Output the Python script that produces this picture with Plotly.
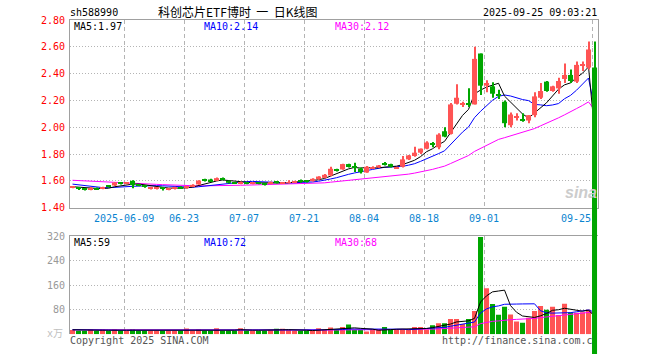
import pandas as pd
import plotly.graph_objects as go

# ---------------- data ----------------
holidays = ["2025-06-02"]
dates = [d.strftime("%Y-%m-%d") for d in pd.bdate_range("2025-05-26", "2025-09-25")
         if d.strftime("%Y-%m-%d") not in holidays]

opens = [1.552, 1.548, 1.540, 1.538, 1.545, 1.540, 1.560, 1.565, 1.583, 1.580,
         1.600, 1.570, 1.563, 1.545, 1.545, 1.547, 1.535, 1.540, 1.552, 1.548,
         1.558, 1.573, 1.605, 1.610, 1.600, 1.620, 1.600, 1.585, 1.580, 1.585,
         1.578, 1.585, 1.578, 1.578, 1.590, 1.582, 1.585, 1.588, 1.600, 1.600,
         1.598, 1.612, 1.622, 1.640, 1.685, 1.685, 1.725, 1.705, 1.692, 1.662,
         1.695, 1.700, 1.725, 1.725, 1.692, 1.705, 1.760, 1.785, 1.810, 1.840,
         1.875, 1.850, 1.970, 1.950, 2.175, 2.170, 2.180, 2.170, 2.550, 2.310,
         2.305, 2.245, 2.190, 2.015, 2.075, 2.060, 2.050, 2.090, 2.220, 2.340,
         2.270, 2.290, 2.360, 2.390, 2.340, 2.465, 2.445, 2.445]
highs = [1.560, 1.552, 1.545, 1.553, 1.550, 1.555, 1.565, 1.590, 1.590, 1.590,
         1.605, 1.575, 1.568, 1.555, 1.553, 1.550, 1.545, 1.555, 1.560, 1.562,
         1.575, 1.605, 1.615, 1.615, 1.625, 1.625, 1.603, 1.592, 1.595, 1.590,
         1.592, 1.590, 1.585, 1.595, 1.595, 1.592, 1.605, 1.600, 1.610, 1.605,
         1.620, 1.635, 1.650, 1.705, 1.690, 1.728, 1.728, 1.735, 1.700, 1.710,
         1.708, 1.718, 1.740, 1.728, 1.705, 1.785, 1.792, 1.855, 1.842, 1.895,
         1.890, 1.955, 2.000, 2.180, 2.320, 2.190, 2.290, 2.600, 2.550, 2.350,
         2.335, 2.280, 2.200, 2.110, 2.105, 2.105, 2.090, 2.260, 2.330, 2.345,
         2.310, 2.370, 2.475, 2.430, 2.490, 2.490, 2.640, 2.640]
lows = [1.545, 1.538, 1.528, 1.530, 1.535, 1.537, 1.550, 1.562, 1.572, 1.575,
        1.545, 1.560, 1.548, 1.535, 1.535, 1.528, 1.530, 1.535, 1.545, 1.540,
        1.555, 1.570, 1.595, 1.595, 1.598, 1.605, 1.580, 1.578, 1.575, 1.575,
        1.575, 1.575, 1.565, 1.575, 1.580, 1.578, 1.580, 1.585, 1.585, 1.588,
        1.595, 1.608, 1.620, 1.635, 1.670, 1.682, 1.700, 1.665, 1.655, 1.660,
        1.690, 1.698, 1.715, 1.700, 1.690, 1.700, 1.755, 1.780, 1.800, 1.835,
        1.850, 1.835, 1.925, 1.945, 2.170, 2.150, 2.150, 2.170, 2.240, 2.260,
        2.220, 2.210, 2.000, 2.000, 2.050, 2.040, 2.030, 2.075, 2.210, 2.265,
        2.265, 2.250, 2.330, 2.330, 2.330, 2.420, 2.430, 0.0]
closes = [1.555, 1.545, 1.535, 1.542, 1.540, 1.552, 1.557, 1.587, 1.580, 1.583,
          1.568, 1.563, 1.555, 1.548, 1.547, 1.540, 1.540, 1.552, 1.548, 1.556,
          1.570, 1.602, 1.603, 1.598, 1.620, 1.610, 1.585, 1.583, 1.590, 1.580,
          1.585, 1.580, 1.575, 1.590, 1.586, 1.588, 1.590, 1.597, 1.598, 1.597,
          1.615, 1.632, 1.645, 1.690, 1.682, 1.725, 1.703, 1.700, 1.665, 1.705,
          1.703, 1.715, 1.722, 1.705, 1.702, 1.760, 1.790, 1.810, 1.840, 1.886,
          1.870, 1.945, 1.930, 2.170, 2.220, 2.175, 2.170, 2.510, 2.310, 2.330,
          2.250, 2.240, 2.030, 2.095, 2.080, 2.050, 2.090, 2.230, 2.270, 2.270,
          2.305, 2.345, 2.390, 2.345, 2.465, 2.470, 2.580, 0.0]
volumes = [14, 12, 12, 16, 12, 16, 12, 16, 12, 12,
           16, 12, 12, 12, 12, 12, 12, 12, 12, 19,
           12, 16, 12, 12, 20, 12, 12, 12, 20, 12,
           12, 12, 12, 14, 18, 18, 14, 12, 12, 12,
           12, 20, 14, 22, 14, 24, 32, 14, 14, 9,
           16, 14, 24, 14, 16, 16, 16, 24, 24, 16,
           30, 36, 36, 50, 50, 34, 50, 76, 317, 150,
           99, 64, 90, 65, 42, 38, 54, 76, 92, 80,
           90, 63, 100, 72, 70, 72, 80, 2]

# sessions before the visible window (needed for the moving averages)
prior_closes = [1.60, 1.62, 1.63, 1.64, 1.62, 1.61, 1.63, 1.64, 1.63, 1.62,
                1.61, 1.62, 1.63, 1.62, 1.60, 1.61, 1.62, 1.61, 1.60, 1.61,
                1.60, 1.59, 1.60, 1.595, 1.59, 1.565, 1.55, 1.555, 1.555]
prior_volumes = [14, 16, 13, 18, 15, 12, 17, 14, 16, 15, 13, 19, 15, 14, 16,
                 12, 15, 17, 14, 13, 16, 15, 14, 18, 13, 15, 16, 14, 15]

tick_dates = ["2025-06-09", "2025-06-23", "2025-07-07", "2025-07-21",
              "2025-08-04", "2025-08-18", "2025-09-01", "2025-09-25"]
tick_labels = ["2025-06-09", "06-23", "07-07", "07-21", "08-04", "08-18", "09-01", "09-25"]
price_ticks = [1.40, 1.60, 1.80, 2.00, 2.20, 2.40, 2.60, 2.80]
vol_ticks = [80, 160, 240, 320]

code = "sh588990"
title = "科创芯片ETF博时 一 日K线图"
stamp = "2025-09-25 09:03:21"
price_ma_text = ["MA5:1.97", "MA10:2.14", "MA30:2.12"]
vol_ma_text = ["MA5:59", "MA10:72", "MA30:68"]

# ---------------- helpers ----------------
n = len(dates)
W, H = 660, 360
ML, MR, MT, MB = 70, 62, 20, 0
PW, PH = W - ML - MR, H - MT - MB
P_LO, P_HI = 1.40, 2.80
MAIN_BOTTOM_PX = 211
VOL_TOP_PX, VOL_BOTTOM_PX = 240, 340


def px(xp):
    return (xp - ML) / PW


def py(yp):
    return (H - MB - yp) / PH


def moving(prior, vals, k):
    full = list(prior) + list(vals)
    off = len(prior)
    out = []
    for i in range(len(vals)):
        w = full[off + i - k + 1: off + i + 1]
        out.append(sum(w) / len(w))
    return out


RED = "#ff5454"
GREEN = "#00a600"
colors = [RED if c >= o else GREEN for o, c in zip(opens, closes)]
xs = [i + 0.42 for i in range(n)]
tick_idx = [dates.index(d) for d in tick_dates]

MINH = 0.0075
body_base, body_h = [], []
for o, c in zip(opens, closes):
    d = abs(c - o)
    if d < MINH:
        body_base.append(min(o, c) - (MINH - d) / 2)
        body_h.append(MINH)
    else:
        body_base.append(min(o, c))
        body_h.append(d)

# the candles are drawn on a full-height overlay axis with the same price scale,
# so that a candle running below the price pane is not cut off (as in the source)
per_px = (P_HI - P_LO) / (MAIN_BOTTOM_PX - MT)
full_lo = P_LO - (H - MB - MAIN_BOTTOM_PX) * per_px

fig = go.Figure()

# price: moving averages
for k, col in [(30, "#ff00ff"), (10, "#0000ff"), (5, "#000000")]:
    fig.add_trace(go.Scatter(x=xs, y=moving(prior_closes, closes, k), mode="lines",
                             line=dict(color=col, width=1), xaxis="x", yaxis="y",
                             hoverinfo="skip"))

# volume
fig.add_trace(go.Bar(x=xs, y=volumes, width=0.84, marker=dict(color=colors, line=dict(width=0)),
                     xaxis="x2", yaxis="y2", hoverinfo="skip"))
for k, col in [(30, "#ff00ff"), (10, "#0000ff"), (5, "#000000")]:
    fig.add_trace(go.Scatter(x=xs, y=moving(prior_volumes, volumes, k), mode="lines",
                             line=dict(color=col, width=1), xaxis="x2", yaxis="y2",
                             hoverinfo="skip"))

# candles: wicks and bodies
fig.add_trace(go.Bar(x=xs, y=[h - l for h, l in zip(highs, lows)], base=lows, width=0.17,
                     marker=dict(color=colors, line=dict(width=0)),
                     xaxis="x3", yaxis="y3", hoverinfo="skip"))
fig.add_trace(go.Bar(x=xs, y=body_h, base=body_base, width=0.84,
                     marker=dict(color=colors, line=dict(width=0)),
                     xaxis="x3", yaxis="y3", hoverinfo="skip"))

FONT = "DejaVu Sans Mono, Noto Sans CJK SC, monospace"
GRID = "#b4b4b4"
LINE = "#a0a0a0"

fig.update_layout(
    width=W, height=H, margin=dict(l=ML, r=MR, t=MT, b=MB),
    paper_bgcolor="white", plot_bgcolor="rgba(0,0,0,0)",
    showlegend=False, barmode="overlay", hovermode=False,
    font=dict(family=FONT, size=10, color="#000"),
    xaxis=dict(domain=[0, 1], range=[0, n], anchor="y", tickvals=tick_idx,
               showticklabels=False, ticks="", showgrid=True, gridcolor=GRID,
               griddash="4px,3px", gridwidth=1, zeroline=False,
               showline=True, linecolor=LINE, linewidth=1, mirror=True),
    yaxis=dict(domain=[py(MAIN_BOTTOM_PX), 1], range=[P_LO, P_HI], anchor="x",
               tickvals=price_ticks, ticktext=["%.2f" % v for v in price_ticks],
               tickfont=dict(color="#ff0000", size=10, family=FONT), ticks="",
               ticklabelstandoff=2,
               showgrid=True, gridcolor=GRID, griddash="1px,2px", zeroline=False,
               showline=True, linecolor=LINE, linewidth=1, mirror=True),
    xaxis2=dict(domain=[0, 1], range=[0, n], anchor="y2", side="top", tickvals=tick_idx,
                showticklabels=False, ticks="", showgrid=True, gridcolor=GRID,
                griddash="4px,3px", zeroline=False,
                showline=True, linecolor=LINE, linewidth=1),
    yaxis2=dict(domain=[py(VOL_BOTTOM_PX), py(VOL_TOP_PX)], range=[0, 320], anchor="x2",
                tickvals=vol_ticks, ticktext=[str(v) for v in vol_ticks],
                tickfont=dict(color="#999999", size=10, family=FONT), ticks="",
                ticklabelstandoff=2,
                showgrid=True, gridcolor=GRID, griddash="1px,2px", zeroline=False,
                showline=True, linecolor=LINE, linewidth=1),
    xaxis3=dict(domain=[0, 1], range=[0, n], anchor="y3", visible=False),
    yaxis3=dict(domain=[0, 1], range=[full_lo, P_HI], anchor="x3", visible=False),
)

ann = []


def text(x, y, s, color="#000", anchor="left", size=10, xref="paper", **kw):
    ann.append(dict(x=x, y=y, xref=xref, yref="paper", text=s, showarrow=False,
                    xanchor=anchor, yanchor="middle", borderpad=0,
                    font=dict(family=kw.pop("family", FONT), size=size, color=color), **kw))


text(px(69), py(12), code)
text(px(237), py(11.5), title.replace(" ", "&nbsp;&nbsp;"), anchor="center", size=12,
     family="Noto Sans CJK SC, DejaVu Sans Mono")
text(px(598), py(12), stamp, anchor="right")

ma_cols = ["#000000", "#0000ff", "#ff00ff"]
for s, xpx, c in zip(price_ma_text, [73, 203, 334], ma_cols):
    text(px(xpx), py(27), s, color=c)
for s, xpx, c in zip(vol_ma_text, [73, 203, 334], ma_cols):
    text(px(xpx), py(247), s, color=c)

for idx, lab in zip(tick_idx, tick_labels):
    text(idx, py(222), lab, color="#0a84d0",
         anchor="right" if idx == n - 1 else "center", xref="x")

text(px(64), py(339), "x万", color="#c0c0c0", anchor="right")
text(px(69), py(346), "Copyright 2025 SINA.COM", color="#555555")
text(px(441), py(346), "http://finance.sina.com.c", color="#555555")
text(px(581), py(196), "<i><b>sina</b></i>", color="#cccccc", anchor="center", size=16,
     family="Arial, Liberation Sans")

fig.update_layout(annotations=ann)
fig.write_html("out.html", config={"displayModeBar": False},
               post_script="document.body.style.margin='0px';")
